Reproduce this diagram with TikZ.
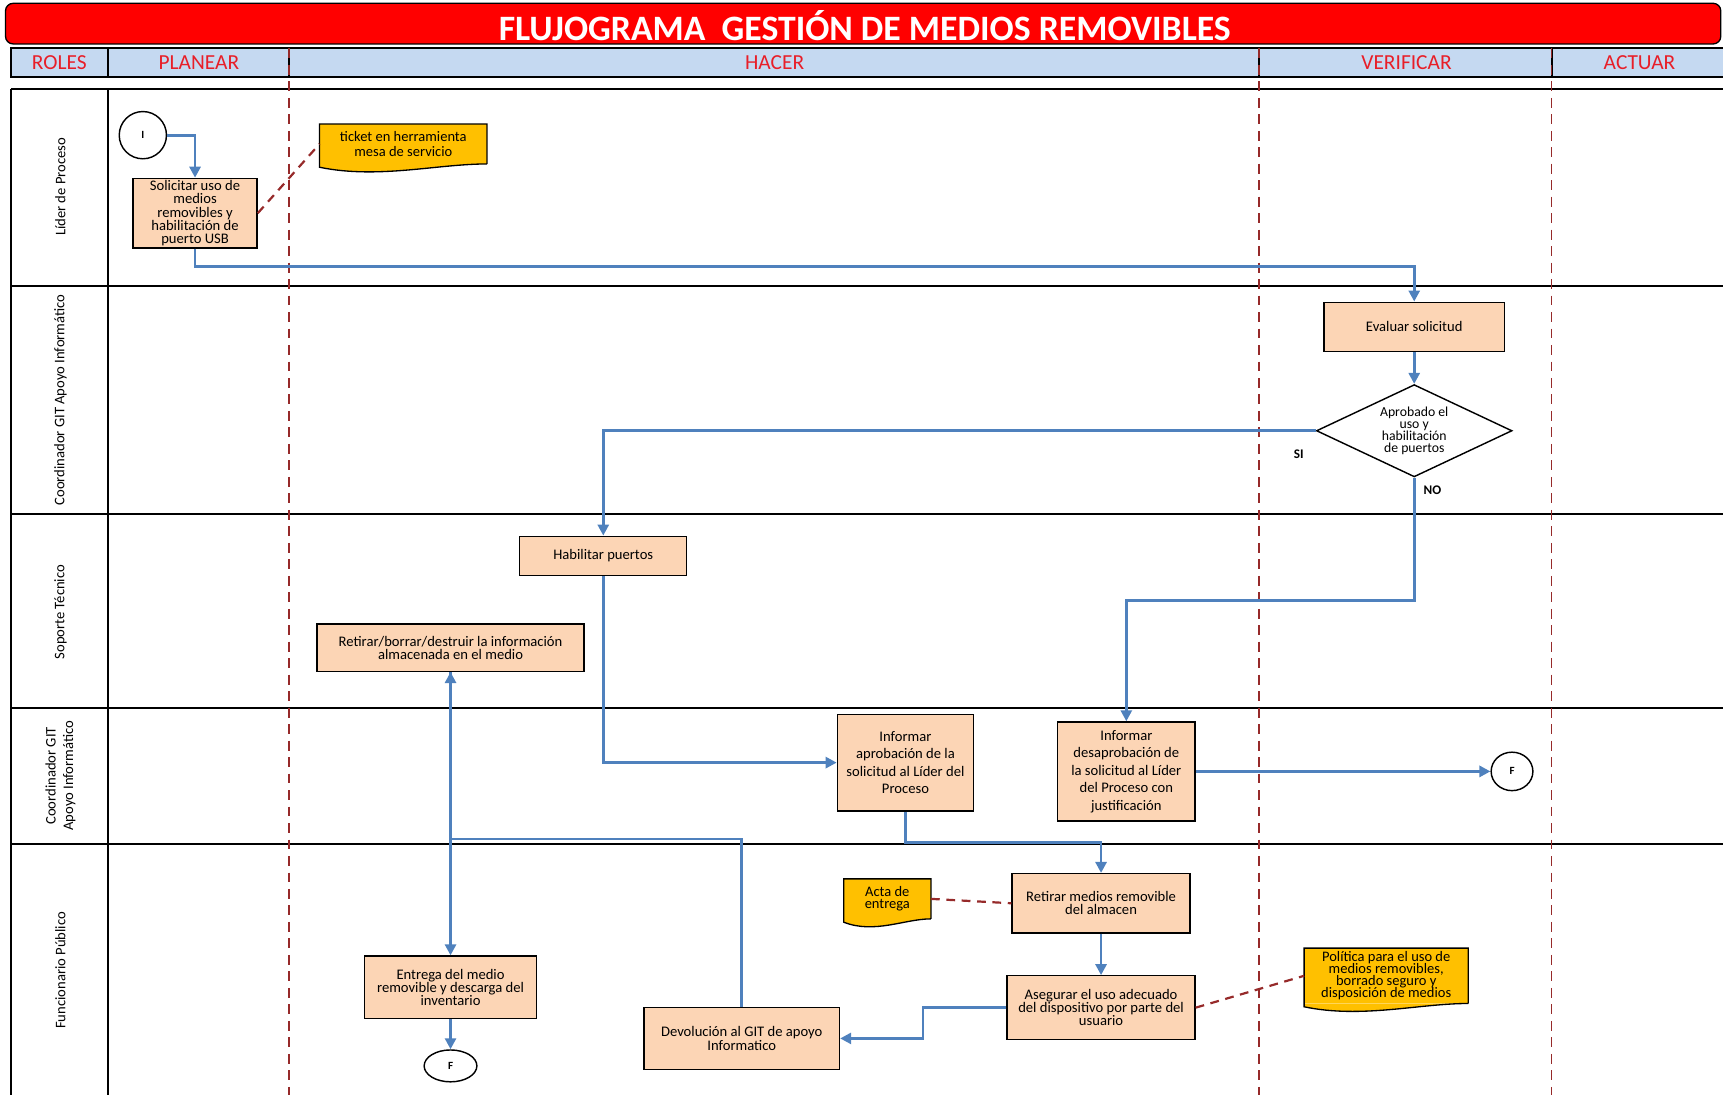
\documentclass[tikz,border=0pt]{standalone}
\usepackage{fontspec}
\setmainfont{Carlito}
\usetikzlibrary{arrows.meta,shapes.geometric,calc}
\definecolor{titlered}{RGB}{255,0,0}
\definecolor{headblue}{RGB}{197,217,241}
\definecolor{headtext}{RGB}{232,30,40}
\definecolor{peach}{RGB}{252,213,181}
\definecolor{noteyellow}{RGB}{255,192,0}
\definecolor{flowblue}{RGB}{79,129,189}
\definecolor{dashred}{RGB}{150,42,42}
\newcommand{\fs}[2]{\fontsize{#1}{#2}\selectfont\lineskiplimit=-8pt\relax}
% wavy bottom of a document note
\newcommand{\docwave}[1]{%
  \fill[noteyellow] (#1.south west) -- ++(0,3) .. controls ($(#1.south west)!0.35!(#1.south east)+(0,14)$) and ($(#1.south west)!0.7!(#1.south east)$) .. (#1.south east) -- cycle;
  \draw[line width=1.2pt] (#1.south east) -- (#1.north east) -- (#1.north west) -- (#1.south west) -- ++(0,3) .. controls ($(#1.south west)!0.35!(#1.south east)+(0,14)$) and ($(#1.south west)!0.7!(#1.south east)$) .. (#1.south east);}

\begin{document}
\begin{tikzpicture}[x=1pt,y=-1pt,
    lane/.style={line width=1.8pt},
    phase/.style={draw=dashred,line width=1.6pt,dash pattern=on 9pt off 6pt},
    hdr/.style={text=headtext,font=\fs{19.5}{20}},
    role/.style={rotate=90,align=center,font=\fs{13.3}{16}},
    proc/.style={draw,line width=1.2pt,fill=peach,align=center,inner sep=2pt,font=\fs{13.3}{12}},
    note/.style={fill=noteyellow,align=center,inner sep=1pt,font=\fs{13.2}{11}},
    term/.style={draw,ellipse,line width=1.3pt,fill=white,inner sep=0pt,font=\fs{10}{10}\bfseries},
    dec/.style={draw,diamond,aspect=2.1,line width=1.3pt,fill=white,inner sep=0pt,align=center,font=\fs{12.5}{11}},
    lbl/.style={font=\fs{12}{12}\bfseries},
    flow/.style={draw=flowblue,line width=2.5pt,-{Triangle[length=10pt,width=10pt]}},
    dashlink/.style={draw=dashred,line width=2pt,dash pattern=on 8pt off 6pt}]
\useasboundingbox (0,0) rectangle (1568,996);
% title and header
\draw[line width=1.2pt,fill=titlered,rounded corners=7pt] (5,3) rectangle (1566,40);
\node[text=white,font=\fs{32.5}{33}\bfseries] (title) at (787,23) {FLUJOGRAMA\ \ GESTIÓN DE MEDIOS REMOVIBLES};
\draw[lane,fill=headblue] (10,44) rectangle (1590,70);
\foreach \x in {98,263,1146,1412} \draw[lane] (\x,44) -- (\x,70);
\node[hdr] (roles) at (54,57) {ROLES};
\node[hdr] (planear) at (181,57) {PLANEAR};
\node[hdr] (hacer) at (705,57) {HACER};
\node[hdr] (verificar) at (1280,57) {VERIFICAR};
\node[hdr] (actuar) at (1492,57) {ACTUAR};
% lanes
\foreach \y in {81,260,468,644,768} \draw[lane] (10,\y) -- (1590,\y);
\draw[lane] (10,81) -- (10,1000);
\draw[lane] (98,81) -- (98,1000);
\foreach \x in {263,1146,1412} \draw[phase] (\x,44) -- (\x,1000);
\node[role] (lider) at (55,170) {Líder de Proceso};
\node[role] (coord1) at (55,364) {Coordinador GIT Apoyo Informático};
\node[role] (soporte) at (55,557) {Soporte Técnico};
\node[role] (coord2) at (55,706) {Coordinador GIT\\Apoyo Informático};
\node[role] (funcionario) at (55,883) {Funcionario Público};
% steps
\node[term,minimum width=43pt,minimum height=43pt] (ini) at (130,123) {I};
\node[proc,minimum width=113pt,minimum height=60pt] (solicitar) at (177.5,194) {Solicitar uso de\\medios\\removibles y\\habilitación de\\puerto USB};
\node[note,minimum width=152pt,minimum height=36pt,font=\fs{13.2}{14}] (ticket) at (367,131) {ticket en herramienta\\mesa de servicio};
\docwave{ticket}
\node[proc,minimum width=164pt,minimum height=45pt] (evaluar) at (1287,297.5) {Evaluar solicitud};
\node[dec,minimum width=178pt,minimum height=84pt] (aprobado) at (1287,392) {Aprobado el\\uso y\\habilitación\\de puertos};
\node[proc,minimum width=152pt,minimum height=36pt] (habilitar) at (549,506) {Habilitar puertos};
\node[proc,minimum width=243pt,minimum height=43pt] (retinfo) at (410,589.5) {Retirar/borrar/destruir la información\\almacenada en el medio};
\node[proc,minimum width=124pt,minimum height=88pt,font=\fs{13.3}{16}] (infaprob) at (824,694) {Informar\\aprobación de la\\solicitud al Líder del\\Proceso};
\node[proc,minimum width=125pt,minimum height=90pt,font=\fs{13.3}{16}] (infdesap) at (1025,702) {Informar\\desaprobación de\\la solicitud al Líder\\del Proceso con\\justificación};
\node[term,minimum width=38pt,minimum height=35pt] (fin1) at (1376,702) {F};
\node[proc,minimum width=162pt,minimum height=54pt] (retmedio) at (1002,822) {Retirar medios removible\\del almacen};
\node[note,minimum width=79pt,minimum height=36pt] (acta) at (807.5,818) {Acta de\\entrega};
\docwave{acta}
\node[proc,minimum width=171pt,minimum height=58pt] (asegurar) at (1002,917) {Asegurar el uso adecuado\\del dispositivo por parte del\\usuario};
\node[note,minimum width=149pt,minimum height=50pt] (politica) at (1261.5,888) {Política para el uso de\\medios removibles,\\borrado seguro y\\disposición de medios};
\docwave{politica}
\node[proc,minimum width=178pt,minimum height=56pt] (devolucion) at (675,945) {Devolución al GIT de apoyo\\Informatico};
\node[proc,minimum width=157pt,minimum height=57pt] (entrega) at (410,898.5) {Entrega del medio\\removible y descarga del\\inventario};
\node[term,minimum width=48pt,minimum height=29pt] (fin2) at (410,970) {F};
% connectors
\draw[flow] (ini.east) -| (solicitar.north);
\draw[dashlink] (solicitar.east) -- (ticket.west);
\draw[flow] (solicitar.south) -- ++(0,16) -| (evaluar.north);
\draw[flow] (evaluar.south) -- (aprobado.north);
\draw[flow] (aprobado.west) -| node[lbl,pos=0.012,below=13pt] {SI} (habilitar.north);
\draw[flow] (aprobado.south) -- node[lbl,pos=0.1,right=4pt] {NO} ++(0,112) -| (infdesap.north);
\draw[flow] (habilitar.south) |- (infaprob.west);
\draw[flow] (infdesap.east) -- (fin1.west);
\draw[flow] (infaprob.south) -- ++(0,28) -| (retmedio.north);
\draw[dashlink] (acta.east) -- (retmedio.west);
\draw[flow] (retmedio.south) -- (asegurar.north);
\draw[dashlink] (asegurar.east) -- (politica.west);
\draw[flow] (asegurar.west) -- ++(-76,0) |- (devolucion.east);
\draw[flow] (devolucion.north) -- ++(0,-153) -| (retinfo.south);
\draw[flow] (retinfo.south) -- (entrega.north);
\draw[flow] (entrega.south) -- (fin2.north);
\end{tikzpicture}
\end{document}
